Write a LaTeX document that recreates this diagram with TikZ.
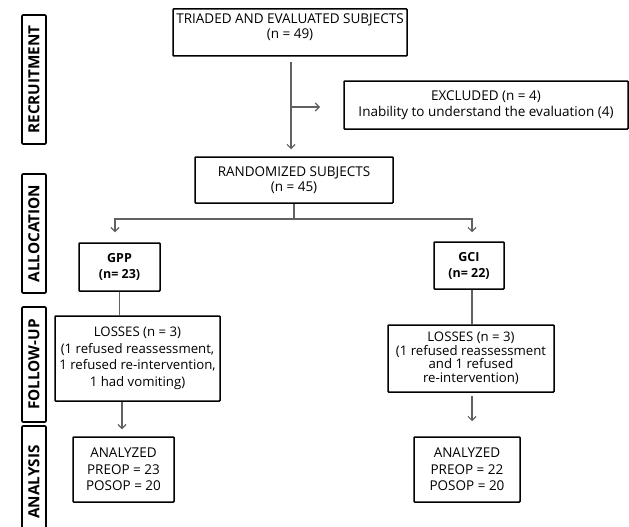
\documentclass[tikz,border=0pt]{standalone}
\usepackage{fontspec}
\setmainfont{Open Sans}
\usetikzlibrary{arrows.meta}
\begin{document}
\begin{tikzpicture}[x=1pt,y=-1pt,
  box/.style={draw=black,line width=1.5pt,rounded corners=0.8pt,align=center,inner sep=0pt,
    font=\fontsize{13.5}{15.5}\selectfont},
  lab/.style={draw=black,line width=1.6pt,rounded corners=1pt,rotate=90,inner sep=0pt,
    font=\fontsize{15.3}{15}\selectfont\bfseries},
  conn/.style={draw=black!62,line width=1.1pt},
  arr/.style={conn,-{Straight Barb[length=4pt,width=8pt]}}]
\useasboundingbox (0,0) rectangle (629,527);
% stage labels
\node[lab,minimum width=129,minimum height=24] (rec) at (34,79.5) {RECRUITMENT};
\node[lab,minimum width=119,minimum height=24] (alo) at (34,233.5) {ALLOCATION};
\node[lab,minimum width=115,minimum height=24] (fu) at (34,364.5) {FOLLOW-UP};
\node[rotate=90,inner sep=0pt,font=\fontsize{15.3}{15}\selectfont\bfseries] (ana) at (34,482) {ANALYSIS};
\draw[line width=1.6pt,rounded corners=1pt] (22,535) -- (22,426) -- (46,426) -- (46,535);
% boxes
\node[box,minimum width=234,minimum height=47] (top) at (290,32.5) {TRIADED AND EVALUATED SUBJECTS\\(n = 49)\\[-3pt]};
\node[box,minimum width=284,minimum height=48] (exc) at (486,105) {EXCLUDED (n = 4)\\Inability to understand the evaluation (4)};
\node[box,minimum width=198,minimum height=46] (ran) at (294,180) {RANDOMIZED SUBJECTS\\(n = 45)};
\node[box,minimum width=81,minimum height=48,font=\fontsize{12.5}{16}\selectfont\bfseries] (gpp) at (119.5,267) {GPP\\(n= 23)};
\node[box,minimum width=70,minimum height=47,font=\fontsize{12.5}{16}\selectfont\bfseries] (gci) at (469,265.5) {GCI\\(n= 22)};
\node[box,minimum width=165,minimum height=85,font=\fontsize{13.2}{16.5}\selectfont] (losL) at (137.5,358.5) {LOSSES (n = 3)\\(1 refused reassessment,\\1 refused re-intervention,\\1 had vomiting)};
\node[box,minimum width=166,minimum height=67,font=\fontsize{13.2}{13.5}\selectfont] (losR) at (471,358.5) {LOSSES (n = 3)\\(1 refused reassessment\\and 1 refused\\re-intervention)};
\node[box,minimum width=101,minimum height=65,font=\fontsize{13.5}{16.3}\selectfont] (anaL) at (123.5,469.5) {ANALYZED\\PREOP = 23\\POSOP = 20};
\node[box,minimum width=106,minimum height=65,font=\fontsize{13.5}{16.3}\selectfont] (anaR) at (467,469.5) {ANALYZED\\PREOP = 22\\POSOP = 20};
% connectors
\draw[arr] ([xshift=1,yshift=-5]top.south) -- ([xshift=-3,yshift=7]ran.north);
\coordinate (br) at (291,107);
\coordinate (brend) at (320,107);
\draw[arr] (br) -- (brend);
\coordinate (split) at (294,219);
\draw[conn] (ran.south) -- (split);
\draw[arr] (split) -| ([xshift=-4.5,yshift=10]gpp.north);
\draw[arr] (split) -| ([xshift=3,yshift=9]gci.north);
\draw[conn] (gpp.south) -- (gpp.south |- losL.north);
\draw[conn] ([xshift=3]gci.south) -- ([xshift=3]gci.south |- losR.north);
\draw[arr] ([xshift=-1.5]anaL.north |- losL.south) -- ([xshift=-1.5,yshift=7]anaL.north);
\draw[arr] ([xshift=5,yshift=-3]anaR.north |- losR.south) -- ([xshift=5,yshift=15]anaR.north);
\end{tikzpicture}
\end{document}
